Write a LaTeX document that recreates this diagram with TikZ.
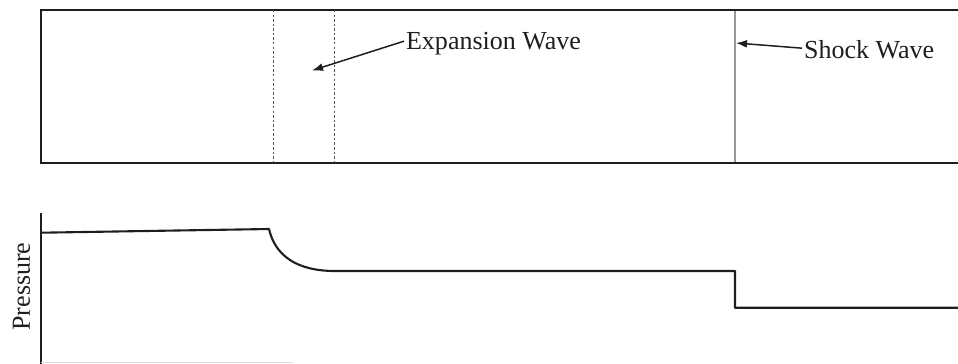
\documentclass[tikz,border=0pt]{standalone}
\usepackage{fontspec}
\setmainfont{Liberation Serif}
\usetikzlibrary{arrows.meta,positioning,calc}
\usepackage{xcolor}
\definecolor{swInk}{HTML}{1E1E1E}
\definecolor{swGray}{HTML}{9A9A9A}
\definecolor{swDash}{HTML}{555555}

\begin{document}
\begin{tikzpicture}[x=0.02cm, y=-0.02cm,
  tube/.style={draw=swInk, line width=1.2pt},
  fan/.style={draw=swDash, line width=0.45pt, dash pattern=on 1.4pt off 1.2pt},
  front/.style={draw=swGray, line width=0.7pt},
  arr/.style={-{Latex[length=2.2mm, width=1.6mm]}, line width=0.85pt, swInk},
  lbl/.style={font=\fontsize{14.8}{16}\selectfont, text=swInk, inner sep=1pt},
  prs/.style={draw=swInk, line width=1.2pt, line join=round}]
\path[use as bounding box, clip] (0,0) rectangle (958,363);
% shock tube
\draw[tube] (41,10) rectangle (975,163);
\draw[fan] (273,10) -- (273,163);
\draw[fan] (334,10) -- (334,163);
\draw[front] (735,11) -- (735,162);
\node[lbl, anchor=base west] (exp) at (404,49) {Expansion Wave};
\node[lbl, anchor=base west] (shk) at (802,58) {Shock Wave};
\coordinate (exptip) at (312,70.5);
\coordinate (shktip) at (736,43);
\draw[arr] ($(exp.west)+(0,-2)$) -- (exptip);
\draw[arr] ($(shk.west)+(0,-1)$) -- (shktip);
% pressure profile
\draw[tube] (41,213) -- (41,370);
\draw[swGray!35, line width=0.5pt] (41,362.8) -- (293,362.8);
\node[lbl, rotate=90, anchor=base] (plab) at (30,286.5) {Pressure};
\draw[prs] (41,232.7) -- (269,229) .. controls (275,255) and (296,271) .. (335,271)
  -- (735,271) -- (735,307.7) -- (975,307.7);
\end{tikzpicture}
\end{document}
